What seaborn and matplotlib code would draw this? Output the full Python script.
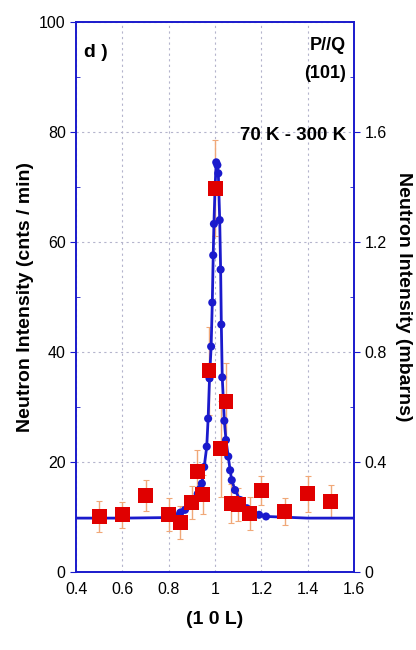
import numpy as np
import pandas as pd
import seaborn as sns
import matplotlib.pyplot as plt
from matplotlib.ticker import MultipleLocator

# measured points (red squares)
data_l = [0.50, 0.60, 0.70, 0.80, 0.85, 0.90, 0.924, 0.947, 0.974, 1.00,
          1.025, 1.047, 1.07, 1.10, 1.15, 1.20, 1.30, 1.40, 1.50]
data_i = [10.1, 10.4, 13.9, 10.4, 9.0, 12.6, 18.2, 14.1, 36.6, 69.8,
          22.4, 31.0, 12.5, 12.3, 10.7, 14.8, 11.0, 14.2, 12.9]
data_err = [2.8, 2.4, 2.8, 3.0, 3.0, 3.0, 4.0, 3.5, 8.0, 8.7,
            8.7, 7.0, 3.5, 3.0, 3.0, 2.7, 2.5, 3.3, 3.0]

# fit curve (blue dots + line)
fit_l = [0.40, 0.60, 0.80, 0.82, 0.85, 0.87, 0.89, 0.91, 0.925, 0.935, 0.943,
         0.953, 0.964, 0.970, 0.976, 0.983, 0.988, 0.992, 0.995, 1.000, 1.005,
         1.010, 1.014, 1.020, 1.024, 1.027, 1.031, 1.040, 1.047, 1.057, 1.065,
         1.072, 1.086, 1.108, 1.137, 1.160, 1.190, 1.220, 1.40, 1.60]
fit_i = [9.8, 9.8, 9.9, 10.3, 10.8, 11.3, 12.0, 13.0, 14.2, 15.1, 16.1,
         19.1, 22.8, 27.9, 35.2, 41.0, 49.0, 57.6, 63.3, 70.0, 74.5,
         74.0, 72.5, 64.0, 55.0, 45.0, 35.4, 27.5, 24.0, 21.0, 18.5,
         16.7, 14.9, 13.1, 11.6, 10.9, 10.4, 10.1, 9.8, 9.8]
dot_from, dot_to = 3, 38   # fit points drawn with markers

sns.set_style("white")
plt.rcParams['font.family'] = ['Liberation Sans', 'DejaVu Sans']
plt.rcParams['text.color'] = 'black'
plt.rcParams['axes.labelcolor'] = 'black'
plt.rcParams['xtick.labelcolor'] = 'black'
plt.rcParams['ytick.labelcolor'] = 'black'

fig = plt.figure(figsize=(4.16, 6.5), dpi=100)
ax = fig.add_axes([0.183, 0.12, 0.668, 0.846])

fit = pd.DataFrame({'L': fit_l, 'I': fit_i})
meas = pd.DataFrame({'L': data_l, 'I': data_i, 'err': data_err})

blue = '#1a1acc'
ax.errorbar(meas['L'], meas['I'], yerr=meas['err'], fmt='none',
            ecolor='#f0a878', elinewidth=1.0, capsize=2.5, capthick=0.8, zorder=2)
sns.lineplot(data=fit, x='L', y='I', ax=ax, color=blue, lw=2.0, zorder=3)
sns.scatterplot(data=fit.iloc[dot_from:dot_to], x='L', y='I', ax=ax, color=blue,
                s=34, edgecolor='none', zorder=4)
sns.scatterplot(data=meas, x='L', y='I', ax=ax, color='#e00000', marker='s',
                s=115, edgecolor='none', zorder=5)

ax.set_xlim(0.4, 1.6)
ax.set_ylim(0, 100)
ax.yaxis.set_minor_locator(MultipleLocator(10))
ax.set_yticks([0, 20, 40, 60, 80, 100])
ax.set_xticks([0.4, 0.6, 0.8, 1.0, 1.2, 1.4, 1.6])
ax.set_xticklabels(['0.4', '0.6', '0.8', '1', '1.2', '1.4', '1.6'])
ax.grid(True, which='major', ls=(0, (2, 3)), color='#b4b4cc', lw=0.8)
ax.tick_params(axis='both', which='major', labelsize=11.5, length=4, color=blue, direction='out')
ax.tick_params(axis='y', which='minor', length=3, color=blue, direction='in')
for sp in ax.spines.values():
    sp.set_color(blue)
    sp.set_linewidth(1.2)

ax.set_xlabel('(1 0 L)', fontsize=14, fontweight='bold', labelpad=10)
ax.set_ylabel('Neutron Intensity (cnts / min)', fontsize=14, fontweight='bold', labelpad=4)

ax2 = ax.twinx()
ax2.set_ylim(0, 2.0)
ax2.set_yticks([0, 0.4, 0.8, 1.2, 1.6])
ax2.set_yticklabels(['0', '0.4', '0.8', '1.2', '1.6'])
ax2.yaxis.set_minor_locator(MultipleLocator(0.2))
ax2.tick_params(axis='y', which='major', labelsize=11.5, length=4, color=blue, direction='out')
ax2.tick_params(axis='y', which='minor', length=3, color=blue, direction='in')
for sp in ax2.spines.values():
    sp.set_color(blue)
    sp.set_linewidth(1.2)
ax2.set_ylabel('Neutron Intensity (mbarns)', fontsize=14, fontweight='bold',
               rotation=270, labelpad=18)

ax.text(0.03, 0.96, 'd )', transform=ax.transAxes, fontsize=14, fontweight='bold',
        ha='left', va='top')
ax.text(0.97, 0.972, 'P//Q', transform=ax.transAxes, fontsize=13, fontweight='bold',
        ha='right', va='top')
ax.text(0.97, 0.922, '(101)', transform=ax.transAxes, fontsize=13, fontweight='bold',
        ha='right', va='top')
ax.text(0.97, 0.81, '70 K - 300 K', transform=ax.transAxes, fontsize=13.5, fontweight='bold',
        ha='right', va='top')

fig.savefig('out.png', dpi=100)
